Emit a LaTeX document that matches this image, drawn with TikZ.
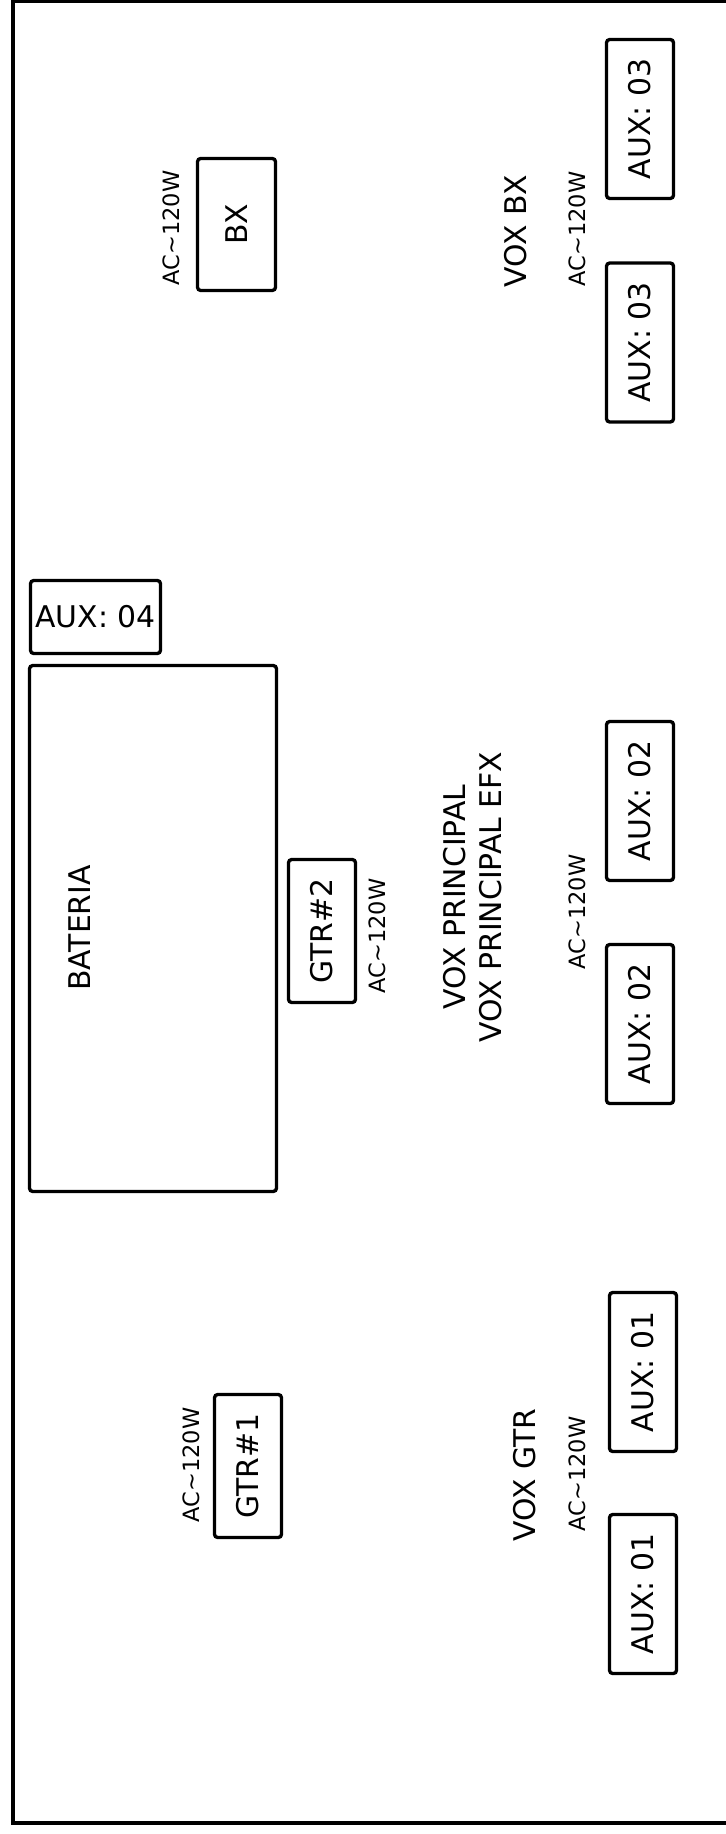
\documentclass[tikz,border=0pt]{standalone}
\usepackage{fontspec}
\setmainfont{DejaVu Sans}
\usetikzlibrary{positioning}
\tikzset{caja/.style={draw,line width=1.9pt,rounded corners=1.8pt,inner sep=0pt,font=\fontsize{17}{17}\selectfont}}
\tikzset{l/.style={inner sep=0pt,font=\fontsize{17}{20.5}\selectfont}}
\tikzset{m/.style={inner sep=0pt,font=\fontsize{12.8}{12.8}\selectfont}}

\begin{document}
\begin{tikzpicture}[x=0.02cm,y=-0.02cm]
        \useasboundingbox (0,0) rectangle (725,1834);
        \draw[line width=2pt] (730,1) -- (13,1) -- (13,1823) -- (730,1823);
        % bajo
        \node[caja,rotate=90,minimum width=2.64cm,minimum height=1.56cm] (bx) at (236.5,224.5) {BX};
        \node[m,rotate=90] (acbx) at (171,228) {AC\textasciitilde120W};
        \node[l,rotate=90] (voxbx) at (516,231) {VOX BX};
        \node[m,rotate=90] (acvoxbx) at (577,229) {AC\textasciitilde120W};
        \node[caja,rotate=90,minimum width=3.18cm,minimum height=1.34cm] (auxc) at (640,119) {AUX: 03};
        \node[caja,rotate=90,minimum width=3.18cm,minimum height=1.34cm] (auxd) at (640,342.5) {AUX: 03};
        % bateria
        \node[caja,minimum width=2.6cm,minimum height=1.46cm] (auxe) at (95.5,617) {AUX: 04};
        \node[caja,minimum width=4.94cm,minimum height=10.52cm] (bateria) at (153,928.5) {};
        \node[l,rotate=90] (batxt) at (80,928) {BATERIA};
        \node[caja,rotate=90,minimum width=2.86cm,minimum height=1.34cm] (gtrb) at (322,931) {GTR\#2};
        \node[m,rotate=90] (acgtrb) at (377,936) {AC\textasciitilde120W};
        % voz principal
        \node[l,rotate=90,align=center] (voxp) at (473,897) {VOX PRINCIPAL\\VOX PRINCIPAL EFX};
        \node[m,rotate=90] (acvoxp) at (577,912) {AC\textasciitilde120W};
        \node[caja,rotate=90,minimum width=3.18cm,minimum height=1.34cm] (auxa) at (640,801) {AUX: 02};
        \node[caja,rotate=90,minimum width=3.18cm,minimum height=1.34cm] (auxb) at (640,1024) {AUX: 02};
        % guitarra
        \node[caja,rotate=90,minimum width=2.86cm,minimum height=1.34cm] (gtra) at (248,1466) {GTR\#1};
        \node[m,rotate=90] (acgtra) at (191,1465) {AC\textasciitilde120W};
        \node[l,rotate=90] (voxgtr) at (525,1475) {VOX GTR};
        \node[m,rotate=90] (acvoxgtr) at (577,1474) {AC\textasciitilde120W};
        \node[caja,rotate=90,minimum width=3.18cm,minimum height=1.34cm] (auxf) at (643,1372) {AUX: 01};
        \node[caja,rotate=90,minimum width=3.18cm,minimum height=1.34cm] (auxg) at (643,1594) {AUX: 01};
      \end{tikzpicture}
\end{document}
